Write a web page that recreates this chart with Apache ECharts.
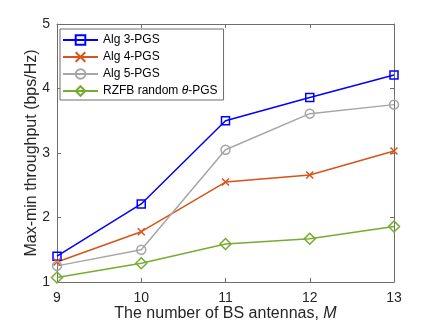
<!DOCTYPE html>
<html lang="en">
<head>
  <meta charset="UTF-8">
  <title>Max-min throughput</title>
  <style>
    html, body { margin: 0; padding: 0; background: #fff; }
    #main { width: 436px; height: 327px; }
  </style>
  <script src="https://cdn.jsdelivr.net/npm/echarts@6/dist/echarts.min.js"></script>
</head>
<body>
  <div id="main"></div>
  <script>
    // 数据
    var antennas = [9, 10, 11, 12, 13];
    var alg3 = [1.40, 2.21, 3.50, 3.86, 4.21];
    var alg4 = [1.31, 1.78, 2.55, 2.66, 3.03];
    var alg5 = [1.25, 1.50, 3.05, 3.61, 3.75];
    var rzfb = [1.07, 1.29, 1.59, 1.67, 1.86];

    var font = 'Liberation Sans, Arial, sans-serif';
    var axisColor = '#262626';
    var frameColor = '#6e6e6e';

    function pairs(ys) {
      return antennas.map(function (x, i) { return [x, ys[i]]; });
    }

    function lineSeries(name, ys, color, symbol, size) {
      return {
        name: name,
        type: 'line',
        data: pairs(ys),
        symbol: symbol,
        symbolSize: size,
        showSymbol: true,
        animation: false,
        lineStyle: { color: color, width: 1.5 },
        itemStyle: { color: 'rgba(255,255,255,0)', borderColor: color, borderWidth: 1.5 },
        emphasis: { disabled: true }
      };
    }

    var chart = echarts.init(document.getElementById('main'));

    var option = {
      animation: false,
      grid: { left: 57, right: 42, top: 24, bottom: 45 },
      legend: {
        orient: 'vertical',
        left: 60,
        top: 29,
        padding: [5, 6, 3, 2],
        itemGap: 5,
        itemWidth: 35,
        itemHeight: 12,
        backgroundColor: '#fff',
        borderColor: frameColor,
        borderWidth: 1,
        borderRadius: 0,
        textStyle: {
          fontFamily: font,
          fontSize: 12,
          color: '#000',
          rich: {
            it: { fontFamily: font, fontSize: 12, fontStyle: 'italic', color: '#000' }
          }
        },
        formatter: function (name) {
          if (name.indexOf('θ') >= 0) {
            return 'RZFB random {it|θ}-PGS';
          }
          return name;
        },
        data: ['Alg 3-PGS', 'Alg 4-PGS', 'Alg 5-PGS', 'RZFB random θ-PGS']
      },
      xAxis: [
        {
          type: 'value',
          min: 9,
          max: 13,
          interval: 1,
          name: 'The number of BS antennas, {it|M}',
          nameLocation: 'middle',
          nameGap: 24,
          nameMoveOverlap: false,
          nameTextStyle: {
            fontFamily: font,
            fontSize: 16,
            color: axisColor,
            rich: {
              it: { fontFamily: font, fontSize: 16, fontStyle: 'italic', color: axisColor }
            }
          },
          axisLine: { lineStyle: { color: frameColor, width: 1 } },
          axisTick: { inside: true, length: 4, lineStyle: { color: frameColor } },
          axisLabel: { fontFamily: font, fontSize: 14, color: axisColor, margin: 9 },
          splitLine: { show: false }
        },
        {
          type: 'value',
          position: 'top',
          min: 9,
          max: 13,
          interval: 1,
          axisLine: { show: true, lineStyle: { color: frameColor, width: 1 } },
          axisTick: { inside: true, length: 4, lineStyle: { color: frameColor } },
          axisLabel: { show: false },
          splitLine: { show: false }
        }
      ],
      yAxis: [
        {
          type: 'value',
          min: 1,
          max: 5,
          interval: 1,
          name: 'Max-min throughput (bps/Hz)',
          nameLocation: 'middle',
          nameGap: 17,
          nameMoveOverlap: false,
          nameTextStyle: { fontFamily: font, fontSize: 16, color: axisColor },
          axisLine: { show: true, lineStyle: { color: frameColor, width: 1 } },
          axisTick: { show: true, inside: true, length: 4, lineStyle: { color: frameColor } },
          axisLabel: { fontFamily: font, fontSize: 14, color: axisColor, margin: 7 },
          splitLine: { show: false }
        },
        {
          type: 'value',
          position: 'right',
          min: 1,
          max: 5,
          interval: 1,
          axisLine: { show: true, lineStyle: { color: frameColor, width: 1 } },
          axisTick: { show: true, inside: true, length: 4, lineStyle: { color: frameColor } },
          axisLabel: { show: false },
          splitLine: { show: false }
        }
      ],
      series: [
        lineSeries('Alg 3-PGS', alg3, '#0000ff', 'rect', 8),
        lineSeries('Alg 4-PGS', alg4, '#d95319', 'path://M0,0L10,10M10,0L0,10', 7),
        lineSeries('Alg 5-PGS', alg5, '#a6a6a6', 'circle', 9),
        lineSeries('RZFB random θ-PGS', rzfb, '#77ac30', 'diamond', 11)
      ]
    };

    chart.setOption(option);
  </script>
</body>
</html>
